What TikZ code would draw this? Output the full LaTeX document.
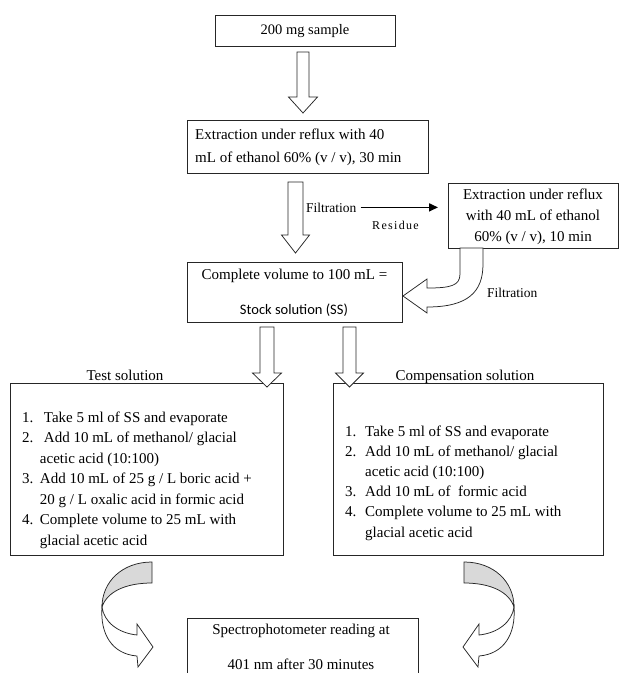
\documentclass[tikz,border=0pt]{standalone}
\usepackage{fontspec}
\setmainfont{Liberation Serif}
\newfontfamily\calfont{Carlito}
\usetikzlibrary{calc,arrows.meta}
\newcommand{\dblock}[5]{% #1 start coord, #2 tip coord, #3 half shaft, #4 half head, #5 head length
  \draw[blk] ($(#1)+(-#3,0)$) -- ($(#2)+(-#3,-#5)$) -- ($(#2)+(-#4,-#5)$) -- (#2)
    -- ($(#2)+(#4,-#5)$) -- ($(#2)+(#3,-#5)$) -- ($(#1)+(#3,0)$) -- cycle;}
\begin{document}
\begin{tikzpicture}[x=1pt,y=-1pt,
  box/.style={draw=black!85,line width=1pt,inner sep=0pt,anchor=north west},
  blk/.style={draw=black!85,line width=0.75pt,fill=white,line join=miter},
  txt/.style={inner sep=0pt,font=\fontsize{15}{20.5}\selectfont},
  thickarrow/.style={line width=1.6pt,-{Triangle[length=9pt,width=8pt]}},
]
\useasboundingbox (0,0) rectangle (620,673);
\clip (0,0) rectangle (620,673);

% boxes
\node[box,minimum width=180,minimum height=31] (b1) at (215,15) {};
\node[box,minimum width=241,minimum height=53] (b2) at (187,120) {};
\node[box,minimum width=170,minimum height=65] (b3) at (448,183) {};
\node[box,minimum width=215,minimum height=60] (b4) at (187,262) {};
\node[box,minimum width=273,minimum height=172] (b5) at (10,383) {};
\node[box,minimum width=270,minimum height=172] (b6) at (333,383) {};
\node[box,minimum width=231,minimum height=80] (b7) at (187,618) {};

% texts
\node[txt,font=\fontsize{14.5}{17}\selectfont,anchor=base] (t1) at (305,34) {200 mg sample};
\node[txt,anchor=base west,font=\fontsize{15}{23}\selectfont] (t2) at (195,139)
  {\begin{tabular}[t]{@{}l@{}}Extraction under reflux with 40\\ mL of ethanol 60\% (v / v), 30 min\end{tabular}};
\node[txt,anchor=base,font=\fontsize{15}{21}\selectfont] (t3) at (533,199)
  {\begin{tabular}[t]{@{}c@{}}Extraction under reflux\\ with 40 mL of ethanol\\ 60\% (v / v), 10 min\end{tabular}};
\node[txt,anchor=base] (t4a) at (294.5,279) {Complete volume to 100 mL =};
\node[txt,anchor=base,font=\calfont\fontsize{14.5}{17}\selectfont] (t4b) at (294,314) {Stock solution (SS)};
\node[txt,anchor=base] (h5) at (125,380) {Test solution};
\node[txt,anchor=base] (h6) at (465,380) {Compensation solution};
\node[txt,anchor=base west] (t5) at (22,422)
  {\begin{tabular}[t]{@{}l@{\hspace{6.5pt}}l@{}}
   1. & \hspace{4pt}Take 5 ml of SS and evaporate\\
   2. & \hspace{4pt}Add 10 mL of methanol/ glacial\\
      & acetic acid (10:100)\\
   3. & Add 10 mL of 25 g / L boric acid +\\
      & 20 g / L oxalic acid in formic acid\\
   4. & Complete volume to 25 mL with\\
      & glacial acetic acid
  \end{tabular}};
\node[txt,anchor=base west,font=\fontsize{15}{20.2}\selectfont] (t6) at (345,436)
  {\begin{tabular}[t]{@{}l@{\hspace{8.75pt}}l@{}}
   1. & Take 5 ml of SS and evaporate\\
   2. & Add 10 mL of methanol/ glacial\\
      & acetic acid (10:100)\\
   3. & Add 10 mL of \ formic acid\\
   4. & Complete volume to 25 mL with\\
      & glacial acetic acid
  \end{tabular}};
\node[txt,anchor=base,font=\fontsize{15}{35}\selectfont] (t7) at (301,634)
  {\begin{tabular}[t]{@{}c@{}}Spectrophotometer reading at\\ 401 nm after 30 minutes\end{tabular}};

% labels
\node[txt,anchor=base west,font=\fontsize{13.5}{16}\selectfont] (f1) at (306,212) {Filtration};
\node[txt,anchor=base west,font=\addfontfeature{LetterSpace=11}\fontsize{12}{14}\selectfont] (r1) at (372,229) {Residue};
\node[txt,anchor=base west,font=\fontsize{13.5}{16}\selectfont] (f2) at (487,297) {Filtration};

% straight block arrows
\coordinate (a1s) at (303,52);   \coordinate (a1t) at (303,113);
\coordinate (a2s) at (295.5,182); \coordinate (a2t) at (295.5,253);
\coordinate (a3s) at (267,327);  \coordinate (a3t) at (267,387);
\coordinate (a4s) at (349.5,327); \coordinate (a4t) at (349.5,387);
\dblock{a1s}{a1t}{6}{14.5}{16}
\dblock{a2s}{a2t}{7.5}{14}{18}
\dblock{a3s}{a3t}{7}{14.5}{14}
\dblock{a4s}{a4t}{6.5}{14}{14}

% filtration -> residue arrow
\draw[thickarrow] ([xshift=4pt]f1.east) -- ([xshift=-10pt]f1.east -| b3.west);

% curved block arrow from b3 to b4
\draw[blk] (460,248) -- (460,274) .. controls (460,286) and (450,288) .. (427,288)
  -- (427,279) -- (b4.east |- 0,296) -- (427,313) -- (427,307)
  .. controls (468,307) and (483,292) .. (483,264) -- (483,248) -- cycle;

% bottom curved arrows
\newcommand{\curvedarrow}{%
  \draw[blk] (102,607) .. controls (104,622) and (118,633) .. (137,635)
    -- (137,624) -- (153,647) -- (138,667) -- (137,656)
    .. controls (112,654) and (100,634) .. (102,607) -- cycle;
  \draw[blk,fill=gray!30] (152,562) .. controls (122,562) and (102,582) .. (102,607)
    .. controls (107,592) and (125,583) .. (152,583) -- cycle;}
\curvedarrow
\begin{scope}[xshift=616pt,xscale=-1]
\curvedarrow
\end{scope}
\end{tikzpicture}
\end{document}
